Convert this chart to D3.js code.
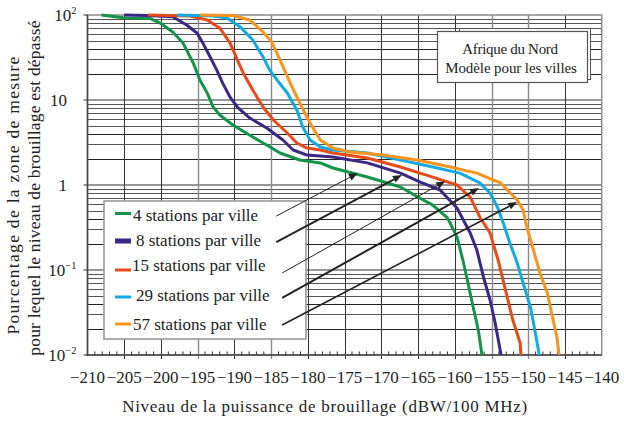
<!DOCTYPE html>
<html>
<head>
<meta charset="utf-8">
<script src="https://cdn.jsdelivr.net/npm/d3@7"></script>
<style>
  html, body { margin: 0; padding: 0; background: #fff; }
  svg { display: block; font-family: "Liberation Serif", "Times New Roman", serif; }
</style>
</head>
<body>
<svg id="chart" width="624" height="421"></svg>
<script>
// Interference level (dBW/100 MHz) vs. percentage of measurement area where it is exceeded
const seriesNames = ["4 stations par ville", "8 stations par ville", "15 stations par ville",
                     "29 stations par ville", "57 stations par ville"];
const seriesColors = ["#13944a", "#3b2883", "#e84b1a", "#15a9e1", "#f7941f"];

const level4 = [-208.1, -204.9, -201.5, -200.1, -198.4, -197.0, -195.6, -194.7, -193.7, -192.9, -192.0, -190.2, -187.5, -185.6, -183.8, -181.1, -178.3, -176.6, -171.9, -167.4, -164.3, -163.0, -161.0, -159.7, -158.9, -158.2, -157.5, -156.8, -156.3];
const pct4   = [100, 92, 91, 80.5, 63, 46.9, 27.2, 17.2, 12.1, 8.3, 6.66, 5.08, 3.67, 2.96, 2.38, 1.97, 1.82, 1.585, 1.24, 0.946, 0.667, 0.58, 0.41, 0.245, 0.131, 0.0703, 0.0367, 0.0197, 0.01];

const level8 = [-205.0, -201.9, -198.4, -196.5, -195.1, -194.3, -193.3, -192.4, -191.6, -190.6, -189.6, -187.9, -185.6, -183.4, -182.0, -180.1, -176.6, -171.9, -167.4, -164.7, -162.0, -159.7, -157.9, -157.0, -156.1, -155.2, -154.5, -153.7];
const pct8   = [100, 98.7, 95.5, 76.3, 61.4, 46.9, 32.1, 22.5, 15.8, 10.8, 8.27, 6.14, 4.69, 3.38, 2.58, 2.25, 2.14, 1.82, 1.38, 1.08, 0.873, 0.536, 0.272, 0.172, 0.0828, 0.0444, 0.0238, 0.01];

const level15 = [-201.8, -196.0, -193.7, -192.0, -190.6, -189.6, -188.8, -187.5, -186.1, -184.7, -182.8, -181.5, -180.1, -178.3, -176.6, -171.9, -167.4, -163.0, -159.7, -157.9, -156.6, -155.2, -154.1, -153.1, -152.1, -151.1, -151.0];
const pct15   = [100, 97.3, 87.3, 70.3, 46.9, 29.6, 20.8, 13.1, 8.28, 5.82, 4.09, 3.12, 2.72, 2.58, 2.38, 2.08, 1.63, 1.24, 1.0, 0.722, 0.421, 0.272, 0.131, 0.0582, 0.0258, 0.0138, 0.01];

const level29 = [-197.8, -192.9, -191.0, -189.2, -187.5, -186.1, -185.2, -184.2, -182.8, -181.5, -180.7, -179.7, -178.3, -176.6, -171.9, -167.4, -163.0, -159.3, -156.6, -155.2, -154.2, -153.4, -152.5, -151.5, -150.7, -149.7, -149.1, -148.5];
const pct29   = [100, 97.3, 92.2, 72.2, 50.8, 32.1, 22.5, 17.2, 12.1, 7.62, 4.81, 3.38, 2.8, 2.58, 2.38, 1.97, 1.63, 1.38, 1.06, 0.805, 0.55, 0.357, 0.208, 0.121, 0.0703, 0.0367, 0.0197, 0.01];

const level57 = [-194.7, -190.2, -187.9, -186.1, -184.9, -183.8, -182.4, -181.1, -179.7, -178.3, -176.6, -174.3, -169.8, -165.1, -160.6, -157.0, -153.8, -151.5, -150.7, -150.2, -149.3, -148.4, -147.4, -146.7, -146.1, -145.8];
const pct57   = [100, 98.7, 87.3, 63.1, 48.1, 29.6, 15.8, 9.22, 5.36, 3.38, 2.72, 2.44, 2.25, 1.97, 1.63, 1.38, 1.06, 0.667, 0.508, 0.321, 0.172, 0.0922, 0.0536, 0.028, 0.0163, 0.01];

const xTicks = [-210, -205, -200, -195, -190, -185, -180, -175, -170, -165, -160, -155, -150, -145, -140];
const yTicks = [100, 10, 1, 0.1, 0.01];

// Leader arrows from each legend row to its curve: [level, pct] start and tip
const arrowFromLevel = [-184.3, -184.3, -183.5, -183.5, -183.5];
const arrowFromPct   = [0.431, 0.213, 0.0922, 0.0469, 0.0225];
const arrowToLevel   = [-173.2, -167.2, -161.3, -156.7, -151.5];
const arrowToPct     = [1.38, 1.31, 1.11, 0.922, 0.631];

const series = [
  { name: seriesNames[0], color: seriesColors[0], x: level4,  y: pct4 },
  { name: seriesNames[1], color: seriesColors[1], x: level8,  y: pct8 },
  { name: seriesNames[2], color: seriesColors[2], x: level15, y: pct15 },
  { name: seriesNames[3], color: seriesColors[3], x: level29, y: pct29 },
  { name: seriesNames[4], color: seriesColors[4], x: level57, y: pct57 }
];

const svg = d3.select("#chart");
const plot = { left: 87.5, right: 601.7, top: 15, bottom: 355 };

const x = d3.scaleLinear().domain([-210, -140]).range([plot.left, plot.right]);
const y = d3.scaleLog().domain([0.01, 100]).range([plot.bottom, plot.top]);

svg.append("rect").attr("width", 624).attr("height", 421).attr("fill", "#fff");

// ----- grid -----
const grid = svg.append("g");
// horizontal log minor lines
const minor = [];
[0.01, 0.1, 1, 10].forEach(d => { for (let k = 2; k <= 9; k++) minor.push(d * k); });
grid.selectAll("line.hmin").data(minor).enter().append("line")
  .attr("x1", plot.left).attr("x2", plot.right)
  .attr("y1", d => Math.round(y(d)) + 0.5).attr("y2", d => Math.round(y(d)) + 0.5)
  .attr("stroke", (d, i) => (i % 8 === 0 || i % 8 === 2) ? "#222" : "#555")
  .attr("stroke-width", 1);
// decade lines
grid.selectAll("line.hdec").data([10, 1, 0.1]).enter().append("line")
  .attr("x1", plot.left).attr("x2", plot.right)
  .attr("y1", d => y(d)).attr("y2", d => y(d))
  .attr("stroke", "#777").attr("stroke-width", 1.6);
// vertical lines every 5 dB
const lightV = new Set([-195, -185, -155, -150]);
grid.selectAll("line.v").data(xTicks.slice(1, -1)).enter().append("line")
  .attr("x1", d => Math.round(x(d)) + 0.5).attr("x2", d => Math.round(x(d)) + 0.5)
  .attr("y1", plot.top).attr("y2", plot.bottom + 4)
  .attr("stroke", d => lightV.has(d) ? "#8a8a8a" : "#333")
  .attr("stroke-width", d => lightV.has(d) ? 1.4 : 1);

// frame
svg.append("rect")
  .attr("x", plot.left).attr("y", plot.top)
  .attr("width", plot.right - plot.left).attr("height", plot.bottom - plot.top)
  .attr("fill", "none").attr("stroke", "#8c8c8c").attr("stroke-width", 1.5);
svg.append("line").attr("x1", plot.left).attr("x2", plot.left)
  .attr("y1", plot.top).attr("y2", plot.bottom + 1).attr("stroke", "#444").attr("stroke-width", 1.5);
svg.append("line").attr("x1", plot.left - 1).attr("x2", plot.right)
  .attr("y1", plot.bottom).attr("y2", plot.bottom).attr("stroke", "#444").attr("stroke-width", 1.5);

// bottom axis minor ticks (1 dB)
const minorX = d3.range(-209, -140, 1).filter(v => v % 5 !== 0);
svg.append("g").selectAll("line").data(minorX).enter().append("line")
  .attr("x1", d => x(d)).attr("x2", d => x(d))
  .attr("y1", plot.bottom - 3.5).attr("y2", plot.bottom)
  .attr("stroke", "#333").attr("stroke-width", 1);

// left axis decade ticks
svg.append("g").selectAll("line").data(yTicks).enter().append("line")
  .attr("x1", plot.left - 4).attr("x2", plot.left)
  .attr("y1", d => y(d)).attr("y2", d => y(d))
  .attr("stroke", "#333").attr("stroke-width", 1);

// ----- tick labels -----
svg.append("g").selectAll("text").data(xTicks).enter().append("text")
  .attr("x", d => x(d)).attr("y", 383)
  .attr("text-anchor", "middle").attr("font-size", 17).attr("fill", "#222")
  .text(d => d < 0 ? "\u2212" + Math.abs(d) : d);

const yl = svg.append("g").attr("font-size", 17).attr("fill", "#222");
yTicks.forEach(v => {
  const e = Math.round(Math.log10(v));
  const t = yl.append("text").attr("y", y(v) + 6).attr("text-anchor", "end");
  if (e === 0 || e === 1) {
    t.attr("x", 67).text(v);
  } else {
    t.attr("x", 76.5);
    t.append("tspan").text("10");
    t.append("tspan").attr("font-size", 10.5).attr("dy", -7)
      .text(e < 0 ? "\u2212" + Math.abs(e) : e);
  }
});

// ----- curves -----
const line = d3.line().x(d => x(d[0])).y(d => y(d[1]));
svg.append("g").selectAll("path").data(series).enter().append("path")
  .attr("d", s => line(s.x.map((v, i) => [v, s.y[i]])))
  .attr("fill", "none").attr("stroke", s => s.color)
  .attr("stroke-width", 3).attr("stroke-linejoin", "round");

// ----- title box -----
svg.append("rect").attr("x", 459.5).attr("y", 28.5).attr("width", 131).attr("height", 51)
  .attr("fill", "#fff").attr("stroke", "#555").attr("stroke-width", 1);
svg.append("rect").attr("x", 437.5).attr("y", 31.5).attr("width", 150).attr("height", 51)
  .attr("fill", "#fff").attr("stroke", "#555").attr("stroke-width", 1.2);
svg.append("text").attr("x", 510).attr("y", 54).attr("text-anchor", "middle")
  .attr("font-size", 15).attr("letter-spacing", -0.3).attr("fill", "#222").text("Afrique du Nord");
svg.append("text").attr("x", 511).attr("y", 73).attr("text-anchor", "middle")
  .attr("font-size", 15).attr("letter-spacing", -0.1).attr("fill", "#222").text("Modèle pour les villes");

// ----- legend -----
svg.append("rect").attr("x", 104).attr("y", 201).attr("width", 202).attr("height", 138)
  .attr("fill", "#fff").attr("stroke", "#999").attr("stroke-width", 1.6);
const legendRows = [
  { sy: 213.5, ty: 221, tx: 133, sw: 3 },
  { sy: 241, ty: 246, tx: 136, sw: 5 },
  { sy: 270, ty: 271, tx: 132, sw: 3 },
  { sy: 297, ty: 301, tx: 136, sw: 3 },
  { sy: 324, ty: 329.5, tx: 133, sw: 3 }
];
const lg = svg.append("g");
series.forEach((s, i) => {
  const r = legendRows[i];
  lg.append("line").attr("x1", 115).attr("x2", 131).attr("y1", r.sy).attr("y2", r.sy)
    .attr("stroke", s.color).attr("stroke-width", r.sw);
  lg.append("text").attr("x", r.tx).attr("y", r.ty).attr("font-size", 17)
    .attr("fill", "#222").text(s.name);
});

// ----- leader arrows -----
const arrowWidths = [1, 2, 1, 2, 1.6];
const ag = svg.append("g");
arrowFromLevel.forEach((_, i) => {
  const x1 = x(arrowFromLevel[i]), y1 = y(arrowFromPct[i]);
  const x2 = x(arrowToLevel[i]), y2 = y(arrowToPct[i]);
  const ang = Math.atan2(y2 - y1, x2 - x1);
  const L = 9, W = 3.6;
  const bx = x2 - L * Math.cos(ang), by = y2 - L * Math.sin(ang);
  ag.append("line").attr("x1", x1).attr("y1", y1).attr("x2", bx).attr("y2", by)
    .attr("stroke", "#222").attr("stroke-width", arrowWidths[i]);
  ag.append("path")
    .attr("d", `M${x2},${y2}L${bx - W * Math.sin(ang)},${by + W * Math.cos(ang)}L${bx + W * Math.sin(ang)},${by - W * Math.cos(ang)}Z`)
    .attr("fill", "#222");
});

// ----- axis titles -----
svg.append("text").attr("x", 325).attr("y", 412).attr("text-anchor", "middle")
  .attr("font-size", 17).attr("letter-spacing", 0.7).attr("fill", "#222")
  .text("Niveau de la puissance de brouillage (dBW/100 MHz)");
svg.append("text").attr("transform", "translate(18.5,195) rotate(-90)")
  .attr("text-anchor", "middle").attr("font-size", 17.5).attr("letter-spacing", 1.3).attr("fill", "#222")
  .text("Pourcentage de la zone de mesure");
svg.append("text").attr("transform", "translate(40,188) rotate(-90)")
  .attr("text-anchor", "middle").attr("font-size", 17.5).attr("letter-spacing", 0.2).attr("fill", "#222")
  .text("pour lequel le niveau de brouillage est dépassé");
</script>
</body>
</html>
